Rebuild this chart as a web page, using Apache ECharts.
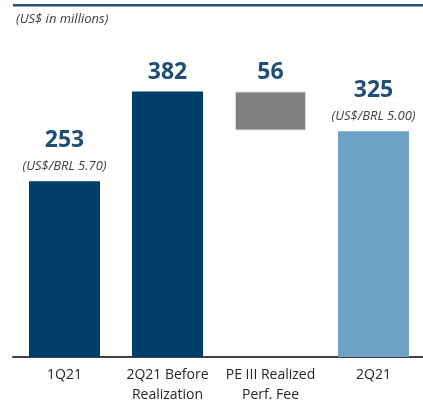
<!DOCTYPE html>
<html>
<head>
<meta charset="utf-8">
<script src="https://cdn.jsdelivr.net/npm/echarts@6/dist/echarts.min.js"></script>
<style>
  html, body { margin: 0; padding: 0; background: #fff; }
  #chart { width: 423px; height: 401px; }
</style>
</head>
<body>
<div id="chart"></div>
<script>
// categories and values (US$ millions)
const categories = ['1Q21', '2Q21 Before\nRealization', 'PE III Realized\nPerf. Fee', '2Q21']
const values = [253, 382, 56, 325]
// invisible base under the floating fee bar
const baseValues = [0, 0, 326, 0]
const fxNotes = ['(US$/BRL 5.70)', '', '', '(US$/BRL 5.00)']
const barColors = ['#003f69', '#003f69', '#7f7f7f', '#6fa3c6']

const chart = echarts.init(document.getElementById('chart'))

const visibleData = values.map((v, i) => {
  const note = fxNotes[i]
  return {
    value: v,
    itemStyle: {
      color: barColors[i],
      borderColor: i === 2 ? '#d9d9d9' : barColors[i],
      borderWidth: i === 2 ? 1 : 0
    },
    label: {
      formatter: note ? '{vn|' + v + '}\n{n|' + note + '}' : '{v|' + v + '}',
      distance: note ? 6 : 8
    }
  }
})

chart.setOption({
  animation: false,
  textStyle: { fontFamily: '"Open Sans", sans-serif' },
  title: {
    text: '(US$ in millions)',
    left: 11,
    top: 8,
    textStyle: {
      fontSize: 13,
      fontStyle: 'italic',
      fontWeight: 'normal',
      color: '#404040',
      fontFamily: '"Open Sans", sans-serif'
    }
  },
  graphic: [{
    type: 'rect',
    shape: { x: 13, y: 4, width: 410, height: 2.5 },
    style: { fill: '#1f5283' }
  }],
  grid: { left: 13, top: 79, width: 412, bottom: 44, outerBoundsMode: 'none', containLabel: false },
  xAxis: {
    type: 'category',
    data: categories,
    axisTick: { show: false },
    axisLine: { lineStyle: { color: '#404040', width: 2 } },
    axisLabel: {
      color: '#262626',
      fontSize: 14,
      lineHeight: 20,
      margin: 8,
      interval: 0
    }
  },
  yAxis: {
    type: 'value',
    min: 0,
    max: 400,
    show: false,
    splitLine: { show: false }
  },
  series: [
    {
      type: 'bar',
      stack: 'w',
      data: baseValues,
      barWidth: 71,
      itemStyle: { color: 'transparent' },
      silent: true
    },
    {
      type: 'bar',
      stack: 'w',
      data: visibleData,
      barWidth: 71,
      label: {
        show: true,
        position: 'top',
        rich: {
          v: { fontSize: 23, fontWeight: 'bold', color: '#1f4e79', lineHeight: 23, align: 'center' },
          vn: { fontSize: 23, fontWeight: 'bold', color: '#1f4e79', lineHeight: 33, align: 'center' },
          n: { fontSize: 13, fontStyle: 'italic', color: '#404040', lineHeight: 18, align: 'center' }
        }
      }
    }
  ]
})
</script>
</body>
</html>
